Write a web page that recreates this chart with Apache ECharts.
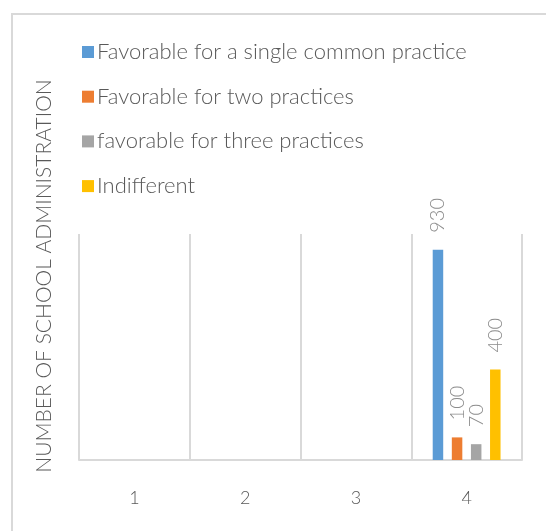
<!DOCTYPE html>
<html>
<head>
<meta charset="utf-8">
<script src="https://cdn.jsdelivr.net/npm/echarts@6/dist/echarts.min.js"></script>
<style>
html,body{margin:0;padding:0;background:#fff;}
#chart{width:546px;height:531px;}
</style>
</head>
<body>
<div id="chart"></div>
<script>
const categories = ['1', '2', '3', '4'];
const seriesNames = ['Favorable for a single common practice', 'Favorable for two practices', 'favorable for three practices', 'Indifferent'];
const singlePractice = [null, null, null, 930];
const twoPractices = [null, null, null, 100];
const threePractices = [null, null, null, 70];
const indifferent = [null, null, null, 400];
const yAxisTitle = 'NUMBER OF SCHOOL ADMINISTRATION';

const colors = ['#5B9BD5', '#ED7D31', '#A5A5A5', '#FFC000'];
const FONT = 'Lato';
const WEIGHT = 300;
const values = [singlePractice, twoPractices, threePractices, indifferent];

const chart = echarts.init(document.getElementById('chart'));
chart.setOption({
  animation: false,
  color: colors,
  textStyle: { fontFamily: FONT, fontWeight: WEIGHT },
  graphic: [
    { type: 'rect', shape: { x: 12, y: 14, width: 600, height: 600 }, style: { fill: 'none', stroke: '#D9D9D9', lineWidth: 2 }, silent: true },
    { type: 'text', x: 44, y: 276, rotation: Math.PI / 2,
      style: { text: yAxisTitle, fill: '#595959', fontFamily: FONT, fontWeight: WEIGHT, fontSize: 21, align: 'center', verticalAlign: 'middle' } }
  ],
  legend: {
    orient: 'vertical', left: 77, top: 36,
    itemWidth: 12, itemHeight: 12, itemGap: 22.7,
    icon: 'rect',
    textStyle: { color: '#595959', fontSize: 22, fontFamily: FONT, fontWeight: WEIGHT, padding: [0, 0, 0, -2] },
    data: seriesNames
  },
  grid: { left: 79, right: 24, top: 234, bottom: 71, containLabel: false },
  xAxis: {
    type: 'category', data: categories,
    axisLine: { lineStyle: { color: '#D9D9D9', width: 2 } },
    axisTick: { show: false },
    axisLabel: { color: '#595959', fontSize: 18, fontWeight: WEIGHT, margin: 29 },
    splitLine: { show: true, lineStyle: { color: '#D9D9D9', width: 2 } }
  },
  yAxis: {
    type: 'value', min: 0, max: 1000,
    axisLine: { show: false }, axisTick: { show: false },
    axisLabel: { show: false }, splitLine: { show: false }
  },
  series: seriesNames.map((name, i) => ({
    name, type: 'bar', data: values[i],
    barWidth: 10.5, barGap: '82%',
    label: { show: true, position: 'top', rotate: 90, align: 'left', verticalAlign: 'middle', distance: 17,
      color: '#8C8C8C', fontSize: 20, fontFamily: FONT, fontWeight: WEIGHT }
  }))
});
</script>
</body>
</html>
